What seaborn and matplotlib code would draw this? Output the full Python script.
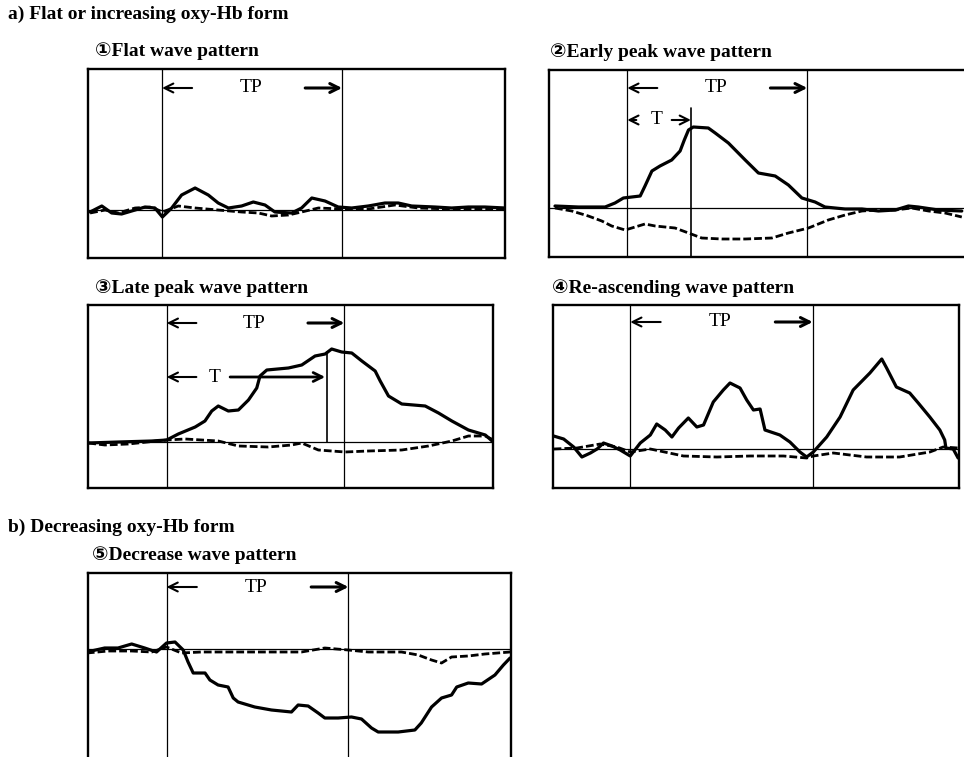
import matplotlib
matplotlib.use('Agg')
import matplotlib.pyplot as plt
import seaborn as sns

# time in seconds from task onset (task = 0..60 s), values in arbitrary units
p1_oxy_t = [-24.0, -20.1, -16.8, -13.5, -9.0, -5.7, -2.4, 0.1, 3.2, 6.5, 11.0, 15.4, 18.7, 22.1, 26.5, 30.4,
            34.3, 37.6, 43.2, 46.5, 49.9, 54.3, 58.7, 63.2, 68.7, 74.3, 78.7, 83.2, 91.0, 96.5, 102.1, 107.6, 114.3]
p1_oxy = [-2, 4, -3, -4, 0, 3, 2, -7, 2, 15, 22, 15, 7, 2, 4, 8,
          5, -2, -3, 2, 12, 9, 3, 2, 4, 7, 7, 4, 3, 2, 3, 3, 2]
p1_deoxy_t = [-24.0, -19.0, -14.6, -9.0, -3.5, 0.1, 5.4, 11.0, 18.7, 26.5, 32.1, 36.5, 42.1, 46.5, 52.1,
              59.9, 68.7, 77.6, 85.4, 96.5, 107.6, 114.3]
p1_deoxy = [-3, 0, -3, 2, 3, -2, 4, 2, 0, -2, -3, -6, -5, -2, 2,
            1, 1, 5, 2, 1, 1, 1]

p2_oxy_t = [-24.1, -16.3, -7.4, -4.1, -1.3, 4.3, 5.9, 8.2, 10.9, 14.8, 17.6, 19.0, 20.4, 22.0, 27.0, 29.3,
            33.7, 39.3, 43.7, 49.3, 53.7, 58.2, 62.6, 65.9, 72.6, 78.2, 83.7, 89.3, 93.7, 97.0, 103.7, 111.5]
p2_oxy = [2, 1, 1, 5, 10, 12, 22, 37, 42, 48, 57, 68, 78, 81, 80, 75,
          65, 48, 35, 32, 23, 10, 6, 1, -1, -1, -3, -2, 2, 1, -2, -3]
p2_deoxy_t = [-24.1, -18.5, -13.0, -8.5, -5.2, -0.7, 2.6, 5.9, 9.3, 15.9, 20.4, 24.8, 31.5, 39.3, 48.2,
              53.7, 60.4, 67.0, 72.6, 78.2, 83.7, 89.3, 94.8, 100.4, 105.9, 111.5]
p2_deoxy = [0, -3, -8, -13, -18, -22, -19, -16, -18, -20, -25, -30, -31, -31, -30,
            -25, -20, -12, -7, -3, -2, -2, 0, -3, -5, -9]

p3_oxy_t = [-26.5, -16.3, -5.1, 0.0, 3.9, 9.6, 12.9, 15.2, 17.4, 20.8, 24.2, 27.6, 30.4, 31.5, 33.8, 41.1,
            45.6, 50.1, 53.5, 55.7, 59.1, 62.5, 65.9, 70.4, 72.1, 74.9, 79.4, 87.3, 91.8, 96.3, 101.9, 107.6, 109.9]
p3_oxy = [-1, 0, 1, 2, 8, 15, 21, 31, 36, 31, 32, 42, 54, 66, 72, 74,
          77, 86, 88, 93, 90, 89, 81, 71, 61, 46, 38, 36, 29, 21, 12, 7, 1]
p3_deoxy_t = [-26.5, -20.9, -13.0, 0.0, 6.2, 17.4, 24.2, 34.3, 42.2, 45.6, 51.2, 60.2, 68.1, 79.4, 88.4,
              96.3, 101.9, 107.6, 110.4]
p3_deoxy = [-1, -3, -2, 2, 3, 1, -4, -5, -3, -1, -8, -10, -9, -8, -4,
            1, 6, 6, 2]

p4_oxy_t = [-25.2, -21.9, -18.6, -15.9, -13.1, -10.9, -8.8, -6.0, -3.3, 0.0, 3.3, 6.6, 8.7, 11.5, 13.7, 15.9,
            19.1, 21.9, 24.1, 27.3, 30.6, 32.8, 36.1, 38.3, 40.5, 42.7, 44.3, 49.2, 52.5, 55.8, 58.0, 60.2,
            64.6, 69.0, 73.3, 78.8, 82.7, 84.3, 87.5, 91.9, 94.7, 98.5, 101.8, 103.4, 103.8, 106.2, 107.8]
p4_oxy = [13, 10, 2, -8, -4, 0, 6, 3, -1, -7, 6, 14, 25, 19, 12, 21,
          31, 22, 24, 47, 59, 66, 61, 49, 39, 40, 19, 14, 7, -3, -8, -3,
          12, 32, 59, 76, 90, 81, 62, 56, 46, 32, 19, 9, 1, 0, -9]
p4_deoxy_t = [-25.2, -17.5, -9.9, -4.4, 0.0, 6.6, 17.5, 28.5, 39.4, 50.4, 58.0, 60.2, 66.8, 77.7, 88.6,
              98.5, 102.9, 107.8]
p4_deoxy = [0, 1, 5, 2, -3, 0, -7, -8, -7, -7, -9, -7, -4, -8, -8,
            -3, 2, 1]

p5_oxy_t = [-26.3, -20.4, -16.0, -11.5, -7.2, -3.3, 0.0, 2.8, 5.5, 7.1, 8.8, 12.7, 14.3, 17.0, 20.3, 22.0,
            23.6, 29.1, 34.6, 41.2, 43.4, 46.7, 50.0, 52.2, 56.6, 61.0, 64.3, 67.6, 69.8, 76.4, 81.9, 84.0,
            87.4, 90.7, 94.0, 95.7, 99.5, 103.9, 108.3, 111.1, 113.3]
p5_oxy = [-3, 1, 1, 5, 1, -3, 6, 7, -1, -13, -24, -24, -31, -36, -38, -49,
          -53, -58, -61, -63, -56, -57, -64, -69, -69, -68, -70, -79, -83, -83, -81, -74,
          -58, -49, -46, -38, -34, -35, -26, -16, -9]
p5_deoxy_t = [-26.3, -19.2, -11.5, -4.9, 0.0, 4.9, 11.5, 22.5, 33.5, 44.5, 52.2, 59.9, 66.5, 77.5, 83.0,
              87.4, 90.7, 94.0, 99.5, 105.0, 113.3]
p5_deoxy = [-4, -2, -2, -3, 2, -4, -3, -3, -3, -3, 1, -1, -3, -3, -6,
            -11, -14, -8, -7, -5, -3]

group_titles = ['a) Flat or increasing oxy-Hb form', 'b) Decreasing oxy-Hb form']
panel_titles = ['\u2460Flat wave pattern', '\u2461Early peak wave pattern', '\u2462Late peak wave pattern',
                '\u2463Re-ascending wave pattern', '\u2464Decrease wave pattern']

sns.set_style('white')
plt.rcParams['font.family'] = ['Liberation Serif', 'DejaVu Sans']
plt.rcParams['text.color'] = 'black'

W, H = 964, 757
fig = plt.figure(figsize=(W / 100, H / 100), dpi=100)


def add_panel(left, right, top, bottom, xlim, ylim):
    ax = fig.add_axes([left / W, 1 - bottom / H, (right - left) / W, (bottom - top) / H])
    ax.set_xlim(*xlim)
    ax.set_ylim(*ylim)
    ax.set_xticks([])
    ax.set_yticks([])
    for s in ax.spines.values():
        s.set_linewidth(1.7)
        s.set_color('black')
    ax.axhline(0, color='black', lw=0.9)
    ax.axvline(0, color='black', lw=0.9)
    ax.axvline(60, color='black', lw=0.9)
    return ax


def draw_curves(ax, ot, o, dt, d):
    sns.lineplot(x=ot, y=o, ax=ax, color='black', lw=2.3, sort=False, estimator=None)
    sns.lineplot(x=dt, y=d, ax=ax, color='black', lw=2.0, sort=False, estimator=None,
                 linestyle=(0, (2.8, 1.1)))


def arrow(ax, x0, x1, y, lw=1.5):
    ax.annotate('', xy=(x1, y), xytext=(x0, y),
                arrowprops=dict(arrowstyle='->', lw=lw, color='black', shrinkA=0, shrinkB=0,
                                mutation_scale=16))


def tp_label(ax, y):
    arrow(ax, 10, 0, y)
    ax.text(29.5, y, 'TP', ha='center', va='center', fontsize=14)
    arrow(ax, 47.7, 60, y, lw=2.2)


ax1 = add_panel(88, 505, 69, 258, (-24.7, 114.3), (-48, 141))
draw_curves(ax1, p1_oxy_t, p1_oxy, p1_deoxy_t, p1_deoxy)
tp_label(ax1, 122)

ax2 = add_panel(549, 966, 70, 257, (-26.1, 112.9), (-49, 138))
draw_curves(ax2, p2_oxy_t, p2_oxy, p2_deoxy_t, p2_deoxy)
tp_label(ax2, 120)
ax2.plot([21.2, 21.2], [-49, 100], color='black', lw=1.2)
arrow(ax2, 3, 0, 88)
ax2.text(9.8, 88, 'T', ha='center', va='center', fontsize=14)
arrow(ax2, 14.8, 21.2, 88)

ax3 = add_panel(88, 493, 305, 488, (-26.6, 110.2), (-46, 137))
draw_curves(ax3, p3_oxy_t, p3_oxy, p3_deoxy_t, p3_deoxy)
tp_label(ax3, 119)
ax3.plot([54, 54], [0, 90], color='black', lw=1.2)
arrow(ax3, 10, 0, 65)
ax3.text(16.3, 65, 'T', ha='center', va='center', fontsize=14)
arrow(ax3, 21.4, 53.5, 65, lw=2.0)

ax4 = add_panel(553, 959, 305, 488, (-25.4, 108.1), (-39, 144))
draw_curves(ax4, p4_oxy_t, p4_oxy, p4_deoxy_t, p4_deoxy)
tp_label(ax4, 127)

ax5 = add_panel(88, 511, 573, 761, (-25.9, 113.6), (-112, 76))
draw_curves(ax5, p5_oxy_t, p5_oxy, p5_deoxy_t, p5_deoxy)
tp_label(ax5, 62)

fig.text(8 / W, 1 - 14 / H, group_titles[0], fontsize=14, fontweight='bold', va='center', ha='left')
fig.text(8 / W, 1 - 527 / H, group_titles[1], fontsize=14, fontweight='bold', va='center', ha='left')
title_pos = [(95, 51), (550, 52), (95, 288), (552, 288), (92, 555)]
for (x, y), t in zip(title_pos, panel_titles):
    fig.text(x / W, 1 - y / H, t, fontsize=14, fontweight='bold', va='center', ha='left')

fig.savefig('out.png', dpi=100)
